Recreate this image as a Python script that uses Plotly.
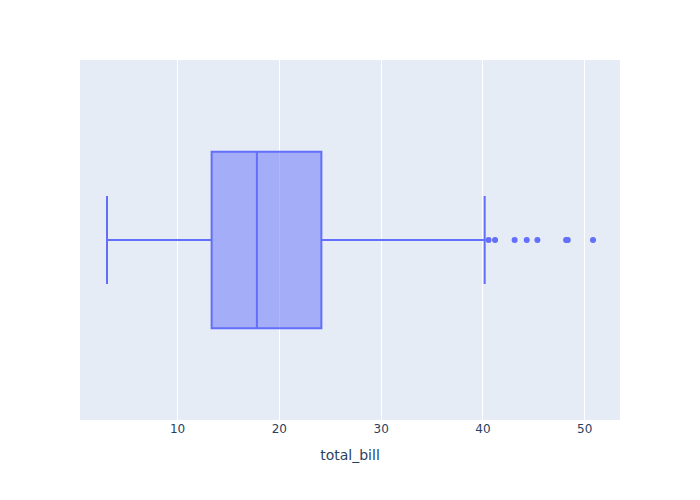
import plotly.graph_objects as go

# Summary statistics of total_bill (tips dataset)
q1 = [13.3475]
median = [17.795]
q3 = [24.1275]
lowerfence = [3.07]
upperfence = [40.17]
outliers = [40.55, 41.19, 43.11, 44.30, 45.35, 48.17, 48.27, 48.33, 50.81]

fig = go.Figure()
fig.add_trace(go.Box(
    x=[outliers],
    q1=q1, median=median, q3=q3,
    lowerfence=lowerfence, upperfence=upperfence,
    y=["total_bill"],
    orientation="h",
    boxpoints="outliers",
    marker_color="#636efa",
    showlegend=False,
))
fig.update_layout(
    template="plotly",
    width=700, height=500,
    margin=dict(l=80, r=80, t=60, b=80),
    font=dict(family="DejaVu Sans"),
    xaxis_title="total_bill",
    yaxis=dict(showticklabels=False, automargin=False),
)
fig.write_html("out.html", config={"displayModeBar": False},
               post_script="document.body.style.margin='0';")
